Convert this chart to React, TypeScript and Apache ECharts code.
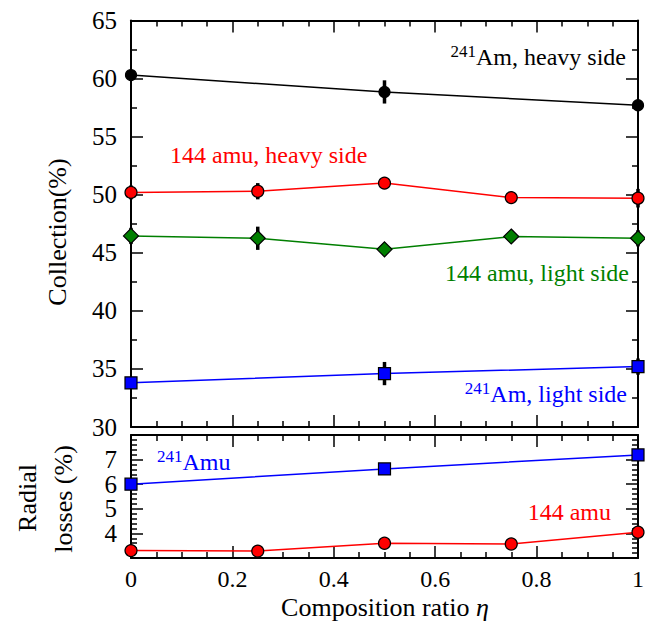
import React, { useEffect, useRef } from "react";
import * as echarts from "echarts";

// Composition ratio values
const etaAm = [0, 0.5, 1];
const eta144 = [0, 0.25, 0.5, 0.75, 1];

// Collection (%)
const amHeavy = [60.3, 58.85, 57.7];
const amHeavyErr = [0.4, 1.0, 0.4];
const m144Heavy = [50.2, 50.3, 51.0, 49.75, 49.7];
const m144HeavyErr = [0.6, 0.7, 0.5, 0.3, 0.8];
const m144Light = [46.45, 46.25, 45.3, 46.4, 46.25];
const m144LightErr = [0.7, 1.0, 0.3, 0.3, 0.7];
const amLight = [33.8, 34.6, 35.2];
const amLightErr = [0.5, 1.0, 0.7];

// Radial losses (%)
const amLoss = [6.0, 6.62, 7.19];
const amLossErr = [0.2, 0.05, 0.2];
const m144Loss = [3.3, 3.28, 3.6, 3.57, 4.05];
const m144LossErr = [0.12, 0.15, 0.05, 0.05, 0.05];

const xTicks = [0, 0.2, 0.4, 0.6, 0.8, 1];

const FONT = "Liberation Serif";

function lineSeries(xs: number[], ys: number[], color: string, symbol: string, size: number, gi: number) {
  return {
    type: "line",
    xAxisIndex: gi * 2,
    yAxisIndex: gi * 2,
    data: xs.map((x, i) => [x, ys[i]]),
    symbol,
    symbolSize: size,
    showAllSymbol: true,
    clip: false,
    lineStyle: { color, width: 1.5 },
    itemStyle: { color, borderColor: "#000", borderWidth: 1.2 },
    z: 5,
  };
}

function errSeries(xs: number[], ys: number[], es: number[], gi: number) {
  return {
    type: "custom",
    xAxisIndex: gi * 2,
    yAxisIndex: gi * 2,
    coordinateSystem: "cartesian2d",
    clip: false,
    data: xs.map((x, i) => [x, ys[i], es[i]]),
    z: 4,
    renderItem: (params: any, api: any) => {
      const x = api.value(0);
      const y = api.value(1);
      const e = api.value(2);
      const p1 = api.coord([x, y - e]);
      const p2 = api.coord([x, y + e]);
      return {
        type: "line",
        shape: { x1: p1[0], y1: p1[1], x2: p2[0], y2: p2[1] },
        style: { stroke: "#000", lineWidth: 3.5 },
      };
    },
  };
}

function xAxis(gi: number, pos: string, showLabel: boolean) {
  return {
    type: "value",
    gridIndex: gi,
    position: pos,
    min: 0,
    max: 1,
    interval: 0.2,
    axisLine: { show: true, onZero: false, lineStyle: { color: "#000", width: 2 } },
    axisTick: { show: true, inside: true, length: 12, lineStyle: { color: "#000", width: 1.5 } },
    minorTick: { show: true, splitNumber: 4, length: 6, lineStyle: { color: "#000", width: 1.5 } },
    splitLine: { show: false },
    axisLabel: {
      show: showLabel,
      margin: 9,
      fontSize: 24,
      color: "#000",
      fontFamily: FONT,
      formatter: (v: number) => {
        const m = xTicks.find((t) => Math.abs(t - v) < 1e-6);
        return m === undefined ? "" : String(m);
      },
    },
  };
}

function yAxis(gi: number, pos: string, showLabel: boolean, min: number, max: number, interval: number, minorSplit: number, hideTop: boolean) {
  return {
    type: "value",
    gridIndex: gi,
    position: pos,
    min,
    max,
    interval,
    axisLine: { show: true, onZero: false, lineStyle: { color: "#000", width: 2 } },
    axisTick: { show: true, inside: true, length: 12, lineStyle: { color: "#000", width: 1.5 } },
    minorTick: { show: true, splitNumber: minorSplit, length: 6, lineStyle: { color: "#000", width: 1.5 } },
    splitLine: { show: false },
    axisLabel: {
      show: showLabel,
      margin: 14,
      fontSize: 25,
      color: "#000",
      fontFamily: FONT,
      formatter: (v: number) => (hideTop && v === max ? "" : String(v)),
    },
  };
}

function annot(x: number, y: number, text: string, color: string, align: string) {
  const rich: any = {
    sup: { fontSize: 17, fontFamily: FONT, fill: color, verticalAlign: "top", padding: [0, 0, 12, 0] },
    n: { fontSize: 24, fontFamily: FONT, fill: color },
  };
  return {
    type: "text",
    x,
    y,
    z: 10,
    style: {
      text,
      rich,
      fill: color,
      fontSize: 24,
      fontFamily: FONT,
      align,
      verticalAlign: "middle",
    },
  };
}

function title(x: number, y: number, text: string, rotate: boolean) {
  return {
    type: "text",
    x,
    y,
    rotation: rotate ? Math.PI / 2 : 0,
    style: {
      text,
      rich: {
        i: { fontSize: 26, fontFamily: FONT, fontStyle: "italic", fill: "#000" },
      },
      fill: "#000",
      fontSize: 26,
      fontFamily: FONT,
      align: "center",
      verticalAlign: "middle",
    },
  };
}

export default function App() {
  const ref = useRef<HTMLDivElement>(null);
  useEffect(() => {
    if (!ref.current) return;
    const chart = echarts.init(ref.current, undefined, { renderer: "svg" });
    chart.setOption({
      animation: false,
      grid: [
        { left: 123, top: 9, width: 507, height: 410 },
        { left: 123, top: 427, width: 507, height: 123 },
      ],
      xAxis: [
        xAxis(0, "bottom", false),
        xAxis(0, "top", false),
        xAxis(1, "bottom", true),
        xAxis(1, "top", false),
      ],
      yAxis: [
        yAxis(0, "left", true, 30, 65, 5, 2, false),
        yAxis(0, "right", false, 30, 65, 5, 2, false),
        yAxis(1, "left", true, 3, 8, 1, 5, true),
        yAxis(1, "right", false, 3, 8, 1, 5, true),
      ],
      series: [
        errSeries(etaAm, amHeavy, amHeavyErr, 0),
        lineSeries(etaAm, amHeavy, "#000000", "circle", 11, 0),
        errSeries(eta144, m144Heavy, m144HeavyErr, 0),
        lineSeries(eta144, m144Heavy, "#ff0000", "circle", 12, 0),
        errSeries(eta144, m144Light, m144LightErr, 0),
        lineSeries(eta144, m144Light, "#007f00", "diamond", 15, 0),
        errSeries(etaAm, amLight, amLightErr, 0),
        lineSeries(etaAm, amLight, "#0000ff", "rect", 12, 0),
        errSeries(etaAm, amLoss, amLossErr, 1),
        lineSeries(etaAm, amLoss, "#0000ff", "rect", 12, 1),
        errSeries(eta144, m144Loss, m144LossErr, 1),
        lineSeries(eta144, m144Loss, "#ff0000", "circle", 12, 1),
      ],
      graphic: [
        annot(618, 49, "{sup|241}{n|Am, heavy side}", "#000000", "right"),
        annot(162, 147, "144 amu, heavy side", "#ff0000", "left"),
        annot(621, 265, "144 amu, light side", "#007f00", "right"),
        annot(619, 386, "{sup|241}{n|Am, light side}", "#0000ff", "right"),
        annot(149, 454, "{sup|241}{n|Amu}", "#0000ff", "left"),
        annot(603, 504, "144 amu", "#ff0000", "right"),
        title(49, 224, "Collection(%)", true),
        title(19, 490, "Radial", true),
        title(55, 491, "losses (%)", true),
        title(377, 599, "Composition ratio {i|η}", false),
      ],
    });
    return () => chart.dispose();
  }, []);
  return <div ref={ref} style={{ width: 645, height: 626 }} />;
}
